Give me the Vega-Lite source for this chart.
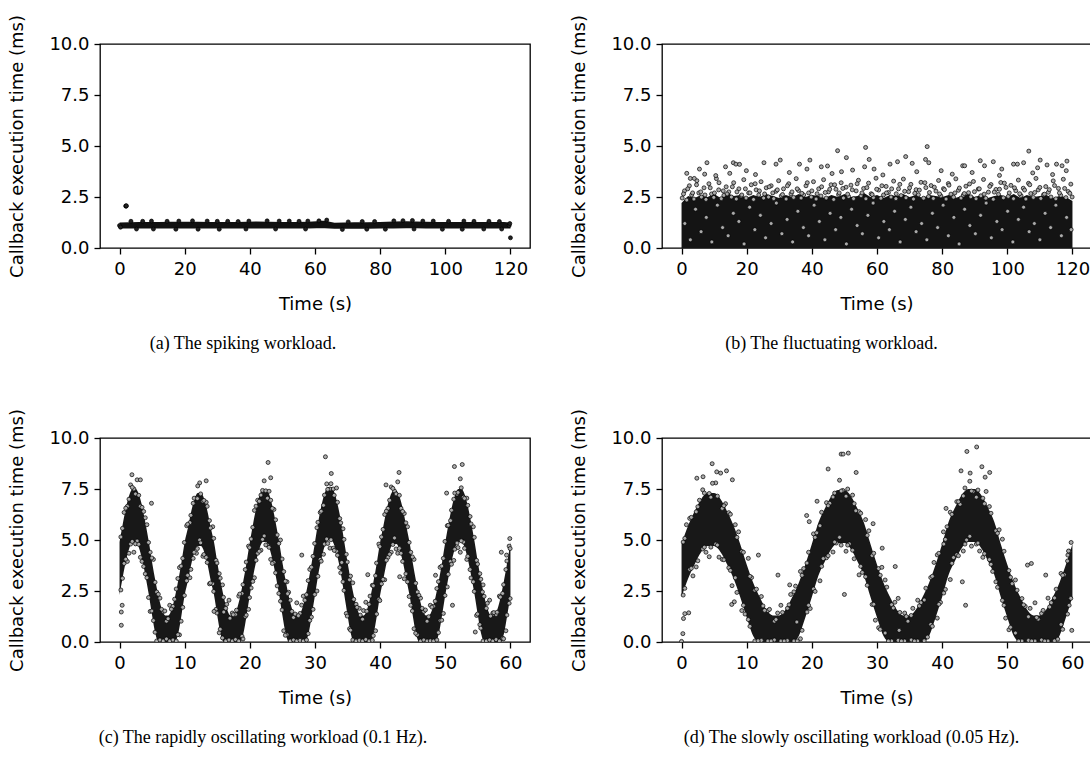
{
"$schema": "https://vega.github.io/schema/vega-lite/v6.json",
"autosize": {"type": "pad"},
"padding": {"left": 8, "top": 13, "right": 0, "bottom": 0},
"background": "white",
"bounds": "flush",
"columns": 2,
"spacing": {"row": 190, "column": 132},
"config": {
 "view": {"stroke": "#000", "strokeWidth": 1.3},
 "font": "DejaVu Sans",
 "axis": {"domain": false, "grid": false, "tickColor": "#000", "tickSize": 6, "tickWidth": 1.3, "labelFont": "DejaVu Sans", "labelFontSize": 18, "labelColor": "#000", "labelPadding": 5, "labelFlush": false, "labelOverlap": false, "labelBound": false, "titleFont": "DejaVu Sans", "titleFontSize": 18, "titleFontWeight": "normal", "titleColor": "#000"},
 "axisX": {"titlePadding": 17, "labelPadding": 6},
 "axisY": {"titlePadding": 22},
 "title": {"orient": "bottom", "anchor": "middle", "frame": "group", "font": "Liberation Serif", "fontSize": 18, "fontWeight": "normal", "color": "#000", "offset": 22}
},
"concat": [
 {
  "width": 430, "height": 204,
  "title": {"text": "(a) The spiking workload.", "dx": -72},
  "encoding": {
   "x": {"field": "t", "type": "quantitative", "title": "Time (s)", "scale": {"domain": [-6, 126], "nice": false, "zero": false}, "axis": {"values": [0, 20, 40, 60, 80, 100, 120]}},
   "y": {"field": "v", "type": "quantitative", "title": "Callback execution time (ms)", "scale": {"domain": [0, 10], "nice": false}, "axis": {"values": [0, 2.5, 5, 7.5, 10], "format": ".1f"}}
  },
  "layer": [
   {"data": {"name": "bandA"}, "mark": {"type": "area", "color": "#111", "interpolate": "monotone", "clip": true}, "encoding": {"y2": {"field": "v2"}}},
   {"data": {"name": "ptsA"}, "mark": {"type": "circle", "fill": "#222", "fillOpacity": 1, "stroke": "#000", "strokeWidth": 0.7, "size": 16, "clip": true}}
  ]
 },
 {
  "width": 429, "height": 204,
  "title": {"text": "(b) The fluctuating workload.", "dx": -45},
  "encoding": {
   "x": {"field": "t", "type": "quantitative", "title": "Time (s)", "scale": {"domain": [-6, 125.69], "nice": false, "zero": false}, "axis": {"values": [0, 20, 40, 60, 80, 100, 120]}},
   "y": {"field": "v", "type": "quantitative", "title": "Callback execution time (ms)", "scale": {"domain": [0, 10], "nice": false}, "axis": {"values": [0, 2.5, 5, 7.5, 10], "format": ".1f"}}
  },
  "layer": [
   {"data": {"name": "bandB"}, "mark": {"type": "area", "color": "#141414", "interpolate": "linear", "clip": true}, "encoding": {"y2": {"field": "v2"}}},
   {"data": {"name": "ptsB"}, "mark": {"type": "circle", "fill": "#aaa", "fillOpacity": 1, "stroke": "#000", "strokeWidth": 0.7, "size": 16, "clip": true}}
  ]
 },
 {
  "width": 430, "height": 204,
  "title": {"text": "(c) The rapidly oscillating workload (0.1 Hz).", "dx": -52},
  "encoding": {
   "x": {"field": "t", "type": "quantitative", "title": "Time (s)", "scale": {"domain": [-3, 63], "nice": false, "zero": false}, "axis": {"values": [0, 10, 20, 30, 40, 50, 60]}},
   "y": {"field": "v", "type": "quantitative", "title": "Callback execution time (ms)", "scale": {"domain": [0, 10], "nice": false}, "axis": {"values": [0, 2.5, 5, 7.5, 10], "format": ".1f"}}
  },
  "layer": [
   {"data": {"name": "bandC"}, "mark": {"type": "area", "color": "#181818", "interpolate": "monotone", "clip": true}, "encoding": {"y2": {"field": "v2"}}},
   {"data": {"name": "ptsC"}, "mark": {"type": "circle", "fill": "#aaa", "fillOpacity": 1, "stroke": "#000", "strokeWidth": 0.7, "size": 16, "clip": true}}
  ]
 },
 {
  "width": 429, "height": 204,
  "title": {"text": "(d) The slowly oscillating workload (0.05 Hz).", "dx": -25},
  "encoding": {
   "x": {"field": "t", "type": "quantitative", "title": "Time (s)", "scale": {"domain": [-3, 62.85], "nice": false, "zero": false}, "axis": {"values": [0, 10, 20, 30, 40, 50, 60]}},
   "y": {"field": "v", "type": "quantitative", "title": "Callback execution time (ms)", "scale": {"domain": [0, 10], "nice": false}, "axis": {"values": [0, 2.5, 5, 7.5, 10], "format": ".1f"}}
  },
  "layer": [
   {"data": {"name": "bandD"}, "mark": {"type": "area", "color": "#181818", "interpolate": "monotone", "clip": true}, "encoding": {"y2": {"field": "v2"}}},
   {"data": {"name": "ptsD"}, "mark": {"type": "circle", "fill": "#aaa", "fillOpacity": 1, "stroke": "#000", "strokeWidth": 0.7, "size": 16, "clip": true}}
  ]
 }
],
"datasets": {
 "bandA": [
  {"t":0,"v":0.96,"v2":1.25},{"t":6,"v":0.95,"v2":1.27},{"t":12,"v":0.95,"v2":1.28},{"t":20,"v":0.96,"v2":1.29},{"t":28,"v":0.95,"v2":1.28},{"t":36,"v":0.95,"v2":1.27},{"t":42,"v":0.96,"v2":1.3},{"t":50,"v":0.96,"v2":1.28},{"t":58,"v":0.96,"v2":1.29},{"t":63,"v":0.97,"v2":1.33},{"t":66,"v":0.94,"v2":1.24},{"t":72,"v":0.94,"v2":1.26},{"t":80,"v":0.95,"v2":1.28},{"t":88,"v":0.97,"v2":1.31},{"t":94,"v":0.96,"v2":1.29},{"t":102,"v":0.95,"v2":1.28},{"t":110,"v":0.96,"v2":1.28},{"t":118,"v":0.95,"v2":1.27},{"t":120,"v":0.96,"v2":1.25}
 ],
 "ptsA": [
  {"t":1.9,"v":2.06},{"t":2.0,"v":2.05},{"t":2.1,"v":2.07},{"t":120.0,"v":0.5},
  {"t":0,"v":1.1},{"t":0.3,"v":1.02},{"t":3.5,"v":1.31},{"t":9.8,"v":1.32},{"t":14.6,"v":1.31},{"t":22.4,"v":1.33},{"t":26.9,"v":1.32},{"t":33.2,"v":1.31},{"t":39.7,"v":1.32},{"t":45.3,"v":1.33},{"t":52.1,"v":1.32},{"t":57.8,"v":1.32},{"t":63.6,"v":1.37},{"t":74.5,"v":1.3},{"t":84.2,"v":1.33},{"t":89.9,"v":1.35},{"t":96.3,"v":1.32},{"t":105.7,"v":1.32},{"t":113.4,"v":1.31},{"t":119.6,"v":1.1},{"t":119.8,"v":1.2},
  {"t":7.1,"v":1.31},{"t":18.2,"v":1.32},{"t":30.0,"v":1.31},{"t":36.4,"v":1.3},{"t":49.0,"v":1.32},{"t":55.1,"v":1.31},{"t":61.2,"v":1.33},{"t":70.2,"v":1.28},{"t":78.3,"v":1.3},{"t":87.0,"v":1.34},{"t":93.1,"v":1.32},{"t":101.0,"v":1.31},{"t":108.8,"v":1.31},{"t":116.6,"v":1.3},
  {"t":5.2,"v":0.93},{"t":17.3,"v":0.92},{"t":30.6,"v":0.92},{"t":47.9,"v":0.93},{"t":68.4,"v":0.91},{"t":81.6,"v":0.92},{"t":99.1,"v":0.92},{"t":111.8,"v":0.93},
  {"t":10.4,"v":0.93},{"t":24.1,"v":0.92},{"t":38.8,"v":0.93},{"t":57.1,"v":0.93},{"t":75.9,"v":0.92},{"t":90.4,"v":0.93},{"t":105.2,"v":0.92},{"t":117.3,"v":0.93}
 ],
 "bandB": [
  {"t":0,"v":0,"v2":2.2},{"t":2,"v":0,"v2":2.55},{"t":4,"v":0,"v2":2.45},{"t":6,"v":0,"v2":2.6},{"t":8,"v":0,"v2":2.5},{"t":10,"v":0,"v2":2.65},{"t":12,"v":0,"v2":2.45},{"t":14,"v":0,"v2":2.7},{"t":16,"v":0,"v2":2.55},{"t":18,"v":0,"v2":2.6},
  {"t":20,"v":0,"v2":2.45},{"t":22,"v":0,"v2":2.6},{"t":24,"v":0,"v2":2.5},{"t":26,"v":0,"v2":2.65},{"t":28,"v":0,"v2":2.55},{"t":30,"v":0,"v2":2.45},{"t":32,"v":0,"v2":2.6},{"t":34,"v":0,"v2":2.5},{"t":36,"v":0,"v2":2.65},{"t":38,"v":0,"v2":2.5},
  {"t":40,"v":0,"v2":2.6},{"t":42,"v":0,"v2":2.55},{"t":44,"v":0,"v2":2.45},{"t":46,"v":0,"v2":2.6},{"t":48,"v":0,"v2":2.5},{"t":50,"v":0,"v2":2.65},{"t":52,"v":0,"v2":2.5},{"t":54,"v":0,"v2":2.55},{"t":56,"v":0,"v2":2.7},{"t":58,"v":0,"v2":2.5},
  {"t":60,"v":0,"v2":2.6},{"t":62,"v":0,"v2":2.45},{"t":64,"v":0,"v2":2.6},{"t":66,"v":0,"v2":2.55},{"t":68,"v":0,"v2":2.65},{"t":70,"v":0,"v2":2.5},{"t":72,"v":0,"v2":2.6},{"t":74,"v":0,"v2":2.45},{"t":76,"v":0,"v2":2.6},{"t":78,"v":0,"v2":2.55},
  {"t":80,"v":0,"v2":2.5},{"t":82,"v":0,"v2":2.6},{"t":84,"v":0,"v2":2.45},{"t":86,"v":0,"v2":2.55},{"t":88,"v":0,"v2":2.65},{"t":90,"v":0,"v2":2.5},{"t":92,"v":0,"v2":2.6},{"t":94,"v":0,"v2":2.45},{"t":96,"v":0,"v2":2.55},{"t":98,"v":0,"v2":2.6},
  {"t":100,"v":0,"v2":2.5},{"t":102,"v":0,"v2":2.65},{"t":104,"v":0,"v2":2.45},{"t":106,"v":0,"v2":2.6},{"t":108,"v":0,"v2":2.5},{"t":110,"v":0,"v2":2.55},{"t":112,"v":0,"v2":2.6},{"t":114,"v":0,"v2":2.45},{"t":116,"v":0,"v2":2.55},{"t":118,"v":0,"v2":2.5},{"t":120,"v":0,"v2":2.3}
 ],
 "ptsB": [
  {"t":0.2,"v":2.45},{"t":0.9,"v":2.8},{"t":1.6,"v":2.35},{"t":2.4,"v":3.05},{"t":3.1,"v":2.6},{"t":3.8,"v":2.4},{"t":4.7,"v":3.3},{"t":5.3,"v":2.7},{"t":6.1,"v":2.5},{"t":6.9,"v":2.95},
  {"t":7.5,"v":2.38},{"t":8.4,"v":3.15},{"t":9.2,"v":2.65},{"t":9.9,"v":2.48},{"t":10.7,"v":3.4},{"t":11.4,"v":2.85},{"t":12.2,"v":2.42},{"t":13.0,"v":2.58},{"t":13.7,"v":3.0},{"t":14.5,"v":2.75},
  {"t":15.3,"v":2.5},{"t":16.0,"v":3.2},{"t":16.8,"v":2.4},{"t":17.6,"v":2.9},{"t":18.3,"v":2.55},{"t":19.1,"v":3.35},{"t":19.8,"v":2.45},{"t":20.6,"v":2.7},{"t":21.4,"v":3.1},{"t":22.1,"v":2.38},
  {"t":22.9,"v":2.85},{"t":23.7,"v":2.6},{"t":24.4,"v":3.25},{"t":25.2,"v":2.45},{"t":26.0,"v":2.95},{"t":26.7,"v":2.5},{"t":27.5,"v":3.05},{"t":28.3,"v":2.42},{"t":29.0,"v":2.78},{"t":29.8,"v":3.3},
  {"t":30.6,"v":2.55},{"t":31.3,"v":2.9},{"t":32.1,"v":2.4},{"t":32.9,"v":3.15},{"t":33.6,"v":2.65},{"t":34.4,"v":2.48},{"t":35.2,"v":3.4},{"t":35.9,"v":2.82},{"t":36.7,"v":2.45},{"t":37.5,"v":2.6},
  {"t":38.2,"v":3.05},{"t":39.0,"v":2.7},{"t":39.8,"v":2.5},{"t":40.5,"v":3.25},{"t":41.3,"v":2.4},{"t":42.1,"v":2.9},{"t":42.8,"v":2.55},{"t":43.6,"v":3.35},{"t":44.4,"v":2.45},{"t":45.1,"v":2.75},
  {"t":45.9,"v":3.1},{"t":46.7,"v":2.38},{"t":47.4,"v":2.88},{"t":48.2,"v":2.62},{"t":49.0,"v":3.2},{"t":49.7,"v":2.45},{"t":50.5,"v":2.98},{"t":51.3,"v":2.52},{"t":52.0,"v":3.08},{"t":52.8,"v":2.42},
  {"t":53.6,"v":2.8},{"t":54.3,"v":3.32},{"t":55.1,"v":2.56},{"t":55.9,"v":2.92},{"t":56.6,"v":2.41},{"t":57.4,"v":3.18},{"t":58.2,"v":2.66},{"t":58.9,"v":2.47},{"t":59.7,"v":3.42},{"t":60.5,"v":2.84},
  {"t":61.2,"v":2.44},{"t":62.0,"v":2.6},{"t":62.8,"v":3.02},{"t":63.5,"v":2.72},{"t":64.3,"v":2.5},{"t":65.1,"v":3.28},{"t":65.8,"v":2.42},{"t":66.6,"v":2.9},{"t":67.4,"v":2.57},{"t":68.1,"v":3.38},
  {"t":68.9,"v":2.46},{"t":69.7,"v":2.76},{"t":70.4,"v":3.12},{"t":71.2,"v":2.4},{"t":72.0,"v":2.86},{"t":72.7,"v":2.61},{"t":73.5,"v":3.22},{"t":74.3,"v":2.44},{"t":75.0,"v":2.96},{"t":75.8,"v":2.52},
  {"t":76.6,"v":3.06},{"t":77.3,"v":2.43},{"t":78.1,"v":2.79},{"t":78.9,"v":3.31},{"t":79.6,"v":2.55},{"t":80.4,"v":2.91},{"t":81.2,"v":2.4},{"t":81.9,"v":3.16},{"t":82.7,"v":2.64},{"t":83.5,"v":2.49},
  {"t":84.2,"v":3.39},{"t":85.0,"v":2.83},{"t":85.8,"v":2.45},{"t":86.5,"v":2.59},{"t":87.3,"v":3.03},{"t":88.1,"v":2.71},{"t":88.8,"v":2.51},{"t":89.6,"v":3.26},{"t":90.4,"v":2.41},{"t":91.1,"v":2.89},
  {"t":91.9,"v":2.56},{"t":92.7,"v":3.36},{"t":93.4,"v":2.44},{"t":94.2,"v":2.74},{"t":95.0,"v":3.11},{"t":95.7,"v":2.39},{"t":96.5,"v":2.87},{"t":97.3,"v":2.63},{"t":98.0,"v":3.21},{"t":98.8,"v":2.46},
  {"t":99.6,"v":2.97},{"t":100.3,"v":2.53},{"t":101.1,"v":3.07},{"t":101.9,"v":2.42},{"t":102.6,"v":2.81},{"t":103.4,"v":3.33},{"t":104.2,"v":2.57},{"t":104.9,"v":2.93},{"t":105.7,"v":2.4},{"t":106.5,"v":3.17},
  {"t":107.2,"v":2.67},{"t":108.0,"v":2.48},{"t":108.8,"v":3.41},{"t":109.5,"v":2.85},{"t":110.3,"v":2.43},{"t":111.1,"v":2.61},{"t":111.8,"v":3.01},{"t":112.6,"v":2.73},{"t":113.4,"v":2.5},{"t":114.1,"v":3.29},
  {"t":114.9,"v":2.41},{"t":115.7,"v":2.92},{"t":116.4,"v":2.58},{"t":117.2,"v":3.37},{"t":118.0,"v":2.47},{"t":118.7,"v":2.77},{"t":119.5,"v":3.13},{"t":119.9,"v":2.5},
  {"t":0.6,"v":2.65},{"t":1.9,"v":2.9},{"t":3.4,"v":2.7},{"t":4.6,"v":3.1},{"t":5.9,"v":2.75},{"t":7.2,"v":2.6},{"t":8.8,"v":2.95},{"t":10.1,"v":2.7},{"t":11.5,"v":3.2},{"t":12.8,"v":2.8},
  {"t":14.0,"v":2.65},{"t":15.6,"v":3.0},{"t":17.0,"v":2.75},{"t":18.5,"v":2.6},{"t":19.6,"v":2.9},{"t":21.0,"v":2.7},{"t":22.6,"v":3.15},{"t":23.9,"v":2.8},{"t":25.5,"v":2.65},{"t":26.9,"v":3.0},
  {"t":28.0,"v":2.7},{"t":29.4,"v":2.85},{"t":31.0,"v":2.62},{"t":32.5,"v":3.05},{"t":33.9,"v":2.75},{"t":35.5,"v":2.9},{"t":36.9,"v":2.68},{"t":38.6,"v":3.2},{"t":40.0,"v":2.8},{"t":41.6,"v":2.66},
  {"t":43.0,"v":3.0},{"t":44.1,"v":2.72},{"t":45.5,"v":2.88},{"t":47.0,"v":3.1},{"t":48.4,"v":2.7},{"t":49.5,"v":2.92},{"t":51.0,"v":2.64},{"t":52.4,"v":2.85},{"t":53.9,"v":3.15},{"t":55.4,"v":2.7},
  {"t":56.9,"v":2.96},{"t":58.5,"v":2.62},{"t":59.9,"v":2.88},{"t":61.5,"v":3.05},{"t":62.9,"v":2.7},{"t":64.5,"v":2.9},{"t":65.9,"v":2.66},{"t":67.0,"v":3.12},{"t":68.5,"v":2.78},{"t":70.0,"v":2.95},
  {"t":71.6,"v":2.68},{"t":73.0,"v":2.84},{"t":74.7,"v":3.2},{"t":76.1,"v":2.72},{"t":77.6,"v":2.98},{"t":79.2,"v":2.65},{"t":80.7,"v":2.86},{"t":82.1,"v":3.08},{"t":83.9,"v":2.7},{"t":85.3,"v":2.94},
  {"t":86.8,"v":2.67},{"t":88.4,"v":3.14},{"t":89.9,"v":2.76},{"t":91.4,"v":2.9},{"t":92.9,"v":2.64},{"t":94.6,"v":3.02},{"t":96.0,"v":2.74},{"t":97.6,"v":2.88},{"t":99.1,"v":3.18},{"t":100.6,"v":2.7},
  {"t":102.2,"v":2.95},{"t":103.8,"v":2.66},{"t":105.3,"v":2.84},{"t":106.9,"v":3.1},{"t":108.4,"v":2.72},{"t":110.0,"v":2.97},{"t":111.4,"v":2.64},{"t":112.9,"v":2.86},{"t":114.5,"v":3.06},{"t":116.0,"v":2.7},
  {"t":117.6,"v":2.92},{"t":119.2,"v":2.68},
  {"t":1.0,"v":1.2},{"t":2.7,"v":0.4},{"t":4.3,"v":1.9},{"t":6.0,"v":0.8},{"t":7.6,"v":1.5},{"t":9.3,"v":0.3},{"t":11.0,"v":2.1},{"t":12.6,"v":1.0},{"t":14.3,"v":0.6},{"t":15.9,"v":1.7},
  {"t":17.6,"v":1.3},{"t":19.2,"v":0.2},{"t":20.9,"v":2.0},{"t":22.5,"v":0.9},{"t":24.2,"v":1.6},{"t":25.8,"v":0.5},{"t":27.5,"v":1.2},{"t":29.1,"v":2.2},{"t":30.8,"v":0.7},{"t":32.4,"v":1.4},
  {"t":34.1,"v":0.3},{"t":35.7,"v":1.8},{"t":37.4,"v":1.0},{"t":39.0,"v":0.6},{"t":40.7,"v":2.1},{"t":42.3,"v":1.3},{"t":44.0,"v":0.4},{"t":45.6,"v":1.7},{"t":47.3,"v":0.9},{"t":48.9,"v":1.5},
  {"t":50.6,"v":0.2},{"t":52.2,"v":1.9},{"t":53.9,"v":1.1},{"t":55.5,"v":0.7},{"t":57.2,"v":1.6},{"t":58.8,"v":2.2},{"t":60.5,"v":0.5},{"t":62.1,"v":1.3},{"t":63.8,"v":0.9},{"t":65.4,"v":1.8},
  {"t":67.1,"v":0.3},{"t":68.7,"v":1.4},{"t":70.4,"v":2.0},{"t":72.0,"v":0.8},{"t":73.7,"v":1.2},{"t":75.3,"v":0.4},{"t":77.0,"v":1.7},{"t":78.6,"v":1.0},{"t":80.3,"v":2.1},{"t":81.9,"v":0.6},
  {"t":83.6,"v":1.5},{"t":85.2,"v":0.2},{"t":86.9,"v":1.9},{"t":88.5,"v":1.1},{"t":90.2,"v":0.7},{"t":91.8,"v":1.6},{"t":93.5,"v":2.2},{"t":95.1,"v":0.5},{"t":96.8,"v":1.3},{"t":98.4,"v":0.9},
  {"t":100.1,"v":1.8},{"t":101.7,"v":0.3},{"t":103.4,"v":1.4},{"t":105.0,"v":2.0},{"t":106.7,"v":0.8},{"t":108.3,"v":1.2},{"t":110.0,"v":0.4},{"t":111.6,"v":1.7},{"t":113.3,"v":1.0},{"t":114.9,"v":2.1},
  {"t":116.6,"v":0.6},{"t":118.2,"v":1.5},{"t":119.6,"v":0.9},
  {"t":7.8,"v":4.18},{"t":5.5,"v":3.87},{"t":7.1,"v":3.62},{"t":1.6,"v":3.66},{"t":2.7,"v":3.41},{"t":3.9,"v":3.41},{"t":13.5,"v":3.98},{"t":15.9,"v":4.18},{"t":16.7,"v":4.11},{"t":17.8,"v":4.1},
  {"t":14.8,"v":3.66},{"t":19.9,"v":3.79},{"t":25.3,"v":4.18},{"t":29.0,"v":4.11},{"t":30.3,"v":4.31},{"t":36.2,"v":4.11},{"t":39.4,"v":4.31},{"t":38.5,"v":3.87},{"t":42.9,"v":3.98},{"t":44.8,"v":4.02},
  {"t":47.9,"v":4.77},{"t":50.6,"v":4.43},{"t":49.1,"v":3.74},{"t":52.5,"v":3.82},{"t":56.2,"v":3.98},{"t":56.5,"v":4.93},{"t":57.6,"v":4.34},{"t":59.1,"v":3.87},{"t":64.0,"v":4.11},{"t":66.3,"v":4.23},
  {"t":68.8,"v":4.48},{"t":70.8,"v":4.15},{"t":74.9,"v":4.34},{"t":75.4,"v":4.97},{"t":75.9,"v":4.18},{"t":72.2,"v":3.74},{"t":79.7,"v":3.79},{"t":86.3,"v":4.03},{"t":86.9,"v":4.03},{"t":91.7,"v":4.28},
  {"t":93.0,"v":4.03},{"t":95.7,"v":4.23},{"t":98.3,"v":3.87},{"t":101.9,"v":4.11},{"t":103.1,"v":4.11},{"t":105.0,"v":4.18},{"t":106.6,"v":4.75},{"t":109.3,"v":3.93},{"t":110.1,"v":4.31},{"t":112.2,"v":4.07},
  {"t":115.1,"v":4.11},{"t":116.8,"v":4.03},{"t":118.3,"v":4.26},{"t":118.1,"v":3.79},{"t":10.5,"v":3.55},{"t":22.7,"v":3.6},{"t":33.1,"v":3.7},{"t":46.2,"v":3.65},{"t":61.8,"v":3.58},{"t":83.1,"v":3.62},
  {"t":89.2,"v":3.7},{"t":97.6,"v":3.56},{"t":107.8,"v":3.68},{"t":113.9,"v":3.6}
 ],
 "bandC": [
  {"t":0,"v":2.3,"v2":4.9},{"t":0.5,"v":3.2,"v2":5.8},{"t":1,"v":4.0,"v2":6.6},{"t":1.5,"v":4.6,"v2":7.2},{"t":2,"v":4.9,"v2":7.5},{"t":2.5,"v":4.9,"v2":7.5},{"t":3,"v":4.6,"v2":7.2},{"t":3.5,"v":4.0,"v2":6.6},{"t":4,"v":3.2,"v2":5.8},{"t":4.5,"v":2.3,"v2":4.9},
  {"t":5,"v":1.3,"v2":3.9},{"t":5.5,"v":0.4,"v2":3.0},{"t":6,"v":0,"v2":2.2},{"t":6.5,"v":0,"v2":1.6},{"t":7,"v":0,"v2":1.3},{"t":7.5,"v":0,"v2":1.3},{"t":8,"v":0,"v2":1.6},{"t":8.5,"v":0,"v2":2.2},{"t":9,"v":0.4,"v2":3.0},{"t":9.5,"v":1.3,"v2":3.9},
  {"t":10,"v":2.3,"v2":4.9},{"t":10.5,"v":3.0,"v2":5.6},{"t":11,"v":3.8,"v2":6.4},{"t":11.5,"v":4.4,"v2":7.0},{"t":12,"v":4.7,"v2":7.3},{"t":12.5,"v":4.7,"v2":7.3},{"t":13,"v":4.4,"v2":7.0},{"t":13.5,"v":3.8,"v2":6.4},{"t":14,"v":3.0,"v2":5.6},{"t":14.5,"v":2.3,"v2":4.9},
  {"t":15,"v":1.3,"v2":3.9},{"t":15.5,"v":0.4,"v2":3.0},{"t":16,"v":0,"v2":2.2},{"t":16.5,"v":0,"v2":1.6},{"t":17,"v":0,"v2":1.3},{"t":17.5,"v":0,"v2":1.3},{"t":18,"v":0,"v2":1.6},{"t":18.5,"v":0,"v2":2.2},{"t":19,"v":0.4,"v2":3.0},{"t":19.5,"v":1.3,"v2":3.9},
  {"t":20,"v":2.3,"v2":4.9},{"t":20.5,"v":3.2,"v2":5.8},{"t":21,"v":4.0,"v2":6.6},{"t":21.5,"v":4.6,"v2":7.2},{"t":22,"v":4.9,"v2":7.5},{"t":22.5,"v":4.9,"v2":7.5},{"t":23,"v":4.6,"v2":7.2},{"t":23.5,"v":4.0,"v2":6.6},{"t":24,"v":3.2,"v2":5.8},{"t":24.5,"v":2.3,"v2":4.9},
  {"t":25,"v":1.3,"v2":3.9},{"t":25.5,"v":0.4,"v2":3.0},{"t":26,"v":0,"v2":2.2},{"t":26.5,"v":0,"v2":1.6},{"t":27,"v":0,"v2":1.3},{"t":27.5,"v":0,"v2":1.3},{"t":28,"v":0,"v2":1.6},{"t":28.5,"v":0,"v2":2.2},{"t":29,"v":0.4,"v2":3.0},{"t":29.5,"v":1.3,"v2":3.9},
  {"t":30,"v":2.3,"v2":4.9},{"t":30.5,"v":3.3,"v2":5.9},{"t":31,"v":4.1,"v2":6.7},{"t":31.5,"v":4.7,"v2":7.3},{"t":32,"v":5.0,"v2":7.6},{"t":32.5,"v":5.0,"v2":7.6},{"t":33,"v":4.7,"v2":7.3},{"t":33.5,"v":4.1,"v2":6.7},{"t":34,"v":3.3,"v2":5.9},{"t":34.5,"v":2.3,"v2":4.9},
  {"t":35,"v":1.3,"v2":3.9},{"t":35.5,"v":0.4,"v2":3.0},{"t":36,"v":0,"v2":2.2},{"t":36.5,"v":0,"v2":1.6},{"t":37,"v":0,"v2":1.3},{"t":37.5,"v":0,"v2":1.3},{"t":38,"v":0,"v2":1.6},{"t":38.5,"v":0,"v2":2.2},{"t":39,"v":0.4,"v2":3.0},{"t":39.5,"v":1.3,"v2":3.9},
  {"t":40,"v":2.3,"v2":4.9},{"t":40.5,"v":3.1,"v2":5.7},{"t":41,"v":3.9,"v2":6.5},{"t":41.5,"v":4.5,"v2":7.1},{"t":42,"v":4.8,"v2":7.4},{"t":42.5,"v":4.8,"v2":7.4},{"t":43,"v":4.5,"v2":7.1},{"t":43.5,"v":3.9,"v2":6.5},{"t":44,"v":3.1,"v2":5.7},{"t":44.5,"v":2.3,"v2":4.9},
  {"t":45,"v":1.3,"v2":3.9},{"t":45.5,"v":0.4,"v2":3.0},{"t":46,"v":0,"v2":2.2},{"t":46.5,"v":0,"v2":1.6},{"t":47,"v":0,"v2":1.3},{"t":47.5,"v":0,"v2":1.3},{"t":48,"v":0,"v2":1.6},{"t":48.5,"v":0,"v2":2.2},{"t":49,"v":0.4,"v2":3.0},{"t":49.5,"v":1.3,"v2":3.9},
  {"t":50,"v":2.3,"v2":4.9},{"t":50.5,"v":3.2,"v2":5.8},{"t":51,"v":4.0,"v2":6.6},{"t":51.5,"v":4.6,"v2":7.2},{"t":52,"v":4.9,"v2":7.5},{"t":52.5,"v":4.9,"v2":7.5},{"t":53,"v":4.6,"v2":7.2},{"t":53.5,"v":4.0,"v2":6.6},{"t":54,"v":3.2,"v2":5.8},{"t":54.5,"v":2.3,"v2":4.9},
  {"t":55,"v":1.3,"v2":3.9},{"t":55.5,"v":0.4,"v2":3.0},{"t":56,"v":0,"v2":2.2},{"t":56.5,"v":0,"v2":1.6},{"t":57,"v":0,"v2":1.3},{"t":57.5,"v":0,"v2":1.3},{"t":58,"v":0,"v2":1.6},{"t":58.5,"v":0,"v2":2.2},{"t":59,"v":0.4,"v2":3.0},{"t":59.5,"v":1.3,"v2":3.9},
  {"t":60,"v":2.3,"v2":4.9}
 ],
 "ptsC": [
  {"t":0.2,"v":5.15},{"t":0.2,"v":2.55},{"t":0.7,"v":6.35},{"t":0.7,"v":3.85},{"t":1.2,"v":6.65},{"t":1.2,"v":3.95},{"t":1.7,"v":7.7},{"t":1.7,"v":4.8},{"t":2.2,"v":7.5},{"t":2.2,"v":4.4},
  {"t":2.7,"v":7.95},{"t":2.7,"v":4.95},{"t":3.2,"v":6.65},{"t":3.2,"v":4.15},{"t":3.7,"v":6.4},{"t":3.7,"v":3.7},{"t":4.2,"v":5.75},{"t":4.2,"v":3.15},{"t":4.7,"v":4.4},{"t":4.7,"v":1.5},
  {"t":5.2,"v":4.05},{"t":5.2,"v":1.05},{"t":5.7,"v":2.45},{"t":5.7,"v":0.05},{"t":6.2,"v":2.15},{"t":6.2,"v":0.1},{"t":6.7,"v":1.5},{"t":6.7,"v":0.05},{"t":7.2,"v":1.02},{"t":7.2,"v":0.15},
  {"t":7.7,"v":1.8},{"t":7.7,"v":0.05},{"t":8.2,"v":1.75},{"t":8.2,"v":0.1},{"t":8.7,"v":2.6},{"t":8.7,"v":0.05},{"t":9.2,"v":3.65},{"t":9.2,"v":0.35},{"t":9.7,"v":4.1},{"t":9.7,"v":1.7},
  {"t":10.3,"v":5.7},{"t":10.3,"v":3.0},{"t":10.8,"v":5.85},{"t":10.8,"v":3.15},{"t":11.3,"v":6.8},{"t":11.3,"v":4.1},{"t":11.8,"v":7.05},{"t":11.8,"v":4.35},{"t":12.3,"v":7.8},{"t":12.3,"v":5.0},
  {"t":12.8,"v":6.9},{"t":12.8,"v":4.2},{"t":13.3,"v":6.85},{"t":13.3,"v":4.15},{"t":13.8,"v":5.95},{"t":13.8,"v":2.85},{"t":14.3,"v":5.65},{"t":14.3,"v":2.85},{"t":14.8,"v":4.0},{"t":14.8,"v":1.6},
  {"t":15.3,"v":3.35},{"t":15.3,"v":0.45},{"t":15.8,"v":2.8},{"t":15.8,"v":0.2},{"t":16.3,"v":1.65},{"t":16.3,"v":0.05},{"t":16.8,"v":2.05},{"t":16.8,"v":0.1},{"t":17.3,"v":1.42},{"t":17.3,"v":0.05},
  {"t":17.8,"v":1.35},{"t":17.8,"v":0.12},{"t":18.3,"v":2.25},{"t":18.3,"v":0.05},{"t":18.8,"v":2.38},{"t":18.8,"v":0.28},{"t":19.3,"v":3.55},{"t":19.3,"v":1.25},{"t":19.8,"v":4.7},{"t":19.8,"v":1.6},
  {"t":20.2,"v":5.05},{"t":20.2,"v":2.65},{"t":20.7,"v":6.45},{"t":20.7,"v":3.15},{"t":21.2,"v":6.95},{"t":21.2,"v":4.35},{"t":21.7,"v":7.2},{"t":21.7,"v":4.5},{"t":22.2,"v":7.9},{"t":22.2,"v":5.2},
  {"t":22.7,"v":7.05},{"t":22.7,"v":4.75},{"t":23.2,"v":6.95},{"t":23.2,"v":4.05},{"t":23.7,"v":6.5},{"t":23.7,"v":3.9},{"t":24.2,"v":5.25},{"t":24.2,"v":2.75},{"t":24.7,"v":5.0},{"t":24.7,"v":2.0},
  {"t":25.2,"v":3.45},{"t":25.2,"v":0.55},{"t":25.7,"v":2.95},{"t":25.7,"v":0.35},{"t":26.2,"v":2.05},{"t":26.2,"v":0.05},{"t":26.7,"v":1.2},{"t":26.7,"v":0.1},{"t":27.2,"v":1.92},{"t":27.2,"v":0.05},
  {"t":27.7,"v":1.4},{"t":27.7,"v":0.08},{"t":28.2,"v":2.25},{"t":28.2,"v":0.05},{"t":28.7,"v":2.32},{"t":28.7,"v":0.1},{"t":29.2,"v":3.56},{"t":29.2,"v":1.06},{"t":29.7,"v":4.2},{"t":29.7,"v":1.6},
  {"t":30.3,"v":5.6},{"t":30.3,"v":2.5},{"t":30.8,"v":6.35},{"t":30.8,"v":4.05},{"t":31.3,"v":6.7},{"t":31.3,"v":4.3},{"t":31.8,"v":7.75},{"t":31.8,"v":5.05},{"t":32.3,"v":7.5},{"t":32.3,"v":4.6},
  {"t":32.8,"v":7.5},{"t":32.8,"v":4.6},{"t":33.3,"v":7.55},{"t":33.3,"v":4.45},{"t":33.8,"v":6.05},{"t":33.8,"v":3.65},{"t":34.3,"v":5.55},{"t":34.3,"v":2.95},{"t":34.8,"v":4.3},{"t":34.8,"v":1.4},
  {"t":35.3,"v":3.05},{"t":35.3,"v":0.65},{"t":35.8,"v":2.9},{"t":35.8,"v":0.1},{"t":36.3,"v":1.85},{"t":36.3,"v":0.05},{"t":36.8,"v":1.65},{"t":36.8,"v":0.08},{"t":37.3,"v":1.12},{"t":37.3,"v":0.05},
  {"t":37.8,"v":1.95},{"t":37.8,"v":0.12},{"t":38.3,"v":1.85},{"t":38.3,"v":0.05},{"t":38.8,"v":2.78},{"t":38.8,"v":0.08},{"t":39.3,"v":3.25},{"t":39.3,"v":0.55},{"t":39.8,"v":4.8},{"t":39.8,"v":2.1},
  {"t":40.2,"v":5.15},{"t":40.2,"v":2.85},{"t":40.7,"v":6.25},{"t":40.7,"v":3.05},{"t":41.2,"v":6.55},{"t":41.2,"v":4.15},{"t":41.7,"v":7.6},{"t":41.7,"v":4.4},{"t":42.2,"v":7.4},{"t":42.2,"v":5.1},
  {"t":42.7,"v":7.85},{"t":42.7,"v":4.35},{"t":43.2,"v":6.55},{"t":43.2,"v":4.35},{"t":43.7,"v":6.3},{"t":43.7,"v":3.1},{"t":44.2,"v":5.65},{"t":44.2,"v":2.95},{"t":44.7,"v":4.4},{"t":44.7,"v":1.8},
  {"t":45.2,"v":4.05},{"t":45.2,"v":0.65},{"t":45.7,"v":2.45},{"t":45.7,"v":0.35},{"t":46.2,"v":2.15},{"t":46.2,"v":0.05},{"t":46.7,"v":1.5},{"t":46.7,"v":0.1},{"t":47.2,"v":1.02},{"t":47.2,"v":0.05},
  {"t":47.7,"v":1.8},{"t":47.7,"v":0.06},{"t":48.2,"v":1.75},{"t":48.2,"v":0.05},{"t":48.7,"v":2.62},{"t":48.7,"v":0.1},{"t":49.2,"v":3.66},{"t":49.2,"v":1.06},{"t":49.7,"v":4.1},{"t":49.7,"v":1.4},
  {"t":50.3,"v":5.7},{"t":50.3,"v":2.7},{"t":50.8,"v":5.95},{"t":50.8,"v":3.95},{"t":51.3,"v":7.0},{"t":51.3,"v":4.0},{"t":51.8,"v":7.25},{"t":51.8,"v":4.85},{"t":52.3,"v":8.0},{"t":52.3,"v":4.4},
  {"t":52.8,"v":7.1},{"t":52.8,"v":4.9},{"t":53.3,"v":7.05},{"t":53.3,"v":4.05},{"t":53.8,"v":6.15},{"t":53.8,"v":3.55},{"t":54.3,"v":5.65},{"t":54.3,"v":2.95},{"t":54.8,"v":4.0},{"t":54.8,"v":1.3},
  {"t":55.3,"v":3.35},{"t":55.3,"v":0.85},{"t":55.8,"v":2.8},{"t":55.8,"v":0.05},{"t":56.3,"v":1.65},{"t":56.3,"v":0.05},{"t":56.8,"v":2.05},{"t":56.8,"v":0.1},{"t":57.3,"v":1.42},{"t":57.3,"v":0.05},
  {"t":57.8,"v":1.35},{"t":57.8,"v":0.12},{"t":58.3,"v":2.25},{"t":58.3,"v":0.05},{"t":58.8,"v":2.38},{"t":58.8,"v":0.18},{"t":59.3,"v":3.55},{"t":59.3,"v":0.55},{"t":59.8,"v":4.7},{"t":59.8,"v":1.9},
  {"t":0.45,"v":5.57},{"t":0.45,"v":3.12},{"t":0.95,"v":6.56},{"t":0.95,"v":4.06},{"t":1.45,"v":7.0},{"t":1.45,"v":4.35},{"t":1.95,"v":7.58},{"t":1.95,"v":4.93},{"t":2.45,"v":7.26},{"t":2.45,"v":4.81},
  {"t":2.95,"v":7.19},{"t":2.95,"v":4.79},{"t":3.45,"v":6.6},{"t":3.45,"v":3.95},{"t":3.95,"v":6.09},{"t":3.95,"v":3.34},{"t":4.45,"v":4.88},{"t":4.45,"v":2.18},{"t":4.95,"v":4.12},{"t":4.95,"v":1.52},
  {"t":5.45,"v":2.93},{"t":5.45,"v":0.48},{"t":5.95,"v":2.34},{"t":6.45,"v":1.6},{"t":6.95,"v":1.52},{"t":7.45,"v":1.14},{"t":7.95,"v":1.61},{"t":8.45,"v":2.1},{"t":8.95,"v":3.11},{"t":8.95,"v":0.36},
  {"t":9.45,"v":3.72},{"t":9.45,"v":1.02},{"t":9.95,"v":4.88},{"t":9.95,"v":2.28},
  {"t":10.45,"v":5.77},{"t":10.45,"v":3.27},{"t":10.95,"v":6.21},{"t":10.95,"v":3.56},{"t":11.45,"v":7.05},{"t":11.45,"v":4.4},{"t":11.95,"v":7.03},{"t":11.95,"v":4.58},{"t":12.45,"v":7.26},{"t":12.45,"v":4.86},
  {"t":12.95,"v":6.94},{"t":12.95,"v":4.29},{"t":13.45,"v":6.65},{"t":13.45,"v":3.9},{"t":13.95,"v":5.59},{"t":13.95,"v":2.89},{"t":14.45,"v":5.08},{"t":14.45,"v":2.48},{"t":14.95,"v":3.87},{"t":14.95,"v":1.42},
  {"t":15.45,"v":3.13},{"t":15.45,"v":0.63},{"t":15.95,"v":2.19},{"t":16.45,"v":1.85},{"t":16.95,"v":1.17},{"t":17.45,"v":1.34},{"t":17.95,"v":1.56},{"t":18.45,"v":2.35},{"t":18.95,"v":2.81},{"t":18.95,"v":0.15},
  {"t":19.45,"v":3.92},{"t":19.45,"v":1.32},{"t":19.95,"v":4.63},{"t":19.95,"v":2.18},
  {"t":20.45,"v":5.62},{"t":20.45,"v":2.97},{"t":20.95,"v":6.66},{"t":20.95,"v":4.01},{"t":21.45,"v":6.9},{"t":21.45,"v":4.45},{"t":21.95,"v":7.43},{"t":21.95,"v":5.03},{"t":22.45,"v":7.41},{"t":22.45,"v":4.76},
  {"t":22.95,"v":7.39},{"t":22.95,"v":4.64},{"t":23.45,"v":6.55},{"t":23.45,"v":3.85},{"t":23.95,"v":5.99},{"t":23.95,"v":3.39},{"t":24.45,"v":4.83},{"t":24.45,"v":2.38},{"t":24.95,"v":4.07},{"t":24.95,"v":1.57},
  {"t":25.45,"v":2.98},{"t":25.45,"v":0.33},{"t":25.95,"v":2.44},{"t":26.45,"v":1.5},{"t":26.95,"v":1.37},{"t":27.45,"v":1.29},{"t":27.95,"v":1.81},{"t":28.45,"v":2.05},{"t":28.95,"v":3.01},{"t":28.95,"v":0.41},
  {"t":29.45,"v":3.67},{"t":29.45,"v":1.22},{"t":29.95,"v":4.83},{"t":29.95,"v":2.33},
  {"t":30.45,"v":5.87},{"t":30.45,"v":3.22},{"t":30.95,"v":6.41},{"t":30.95,"v":3.96},{"t":31.45,"v":7.2},{"t":31.45,"v":4.8},{"t":31.95,"v":7.48},{"t":31.95,"v":4.83},{"t":32.45,"v":7.76},{"t":32.45,"v":5.01},
  {"t":32.95,"v":7.19},{"t":32.95,"v":4.49},{"t":33.45,"v":6.85},{"t":33.45,"v":4.25},{"t":33.95,"v":5.84},{"t":33.95,"v":3.39},{"t":34.45,"v":5.03},{"t":34.45,"v":2.53},{"t":34.95,"v":3.92},{"t":34.95,"v":1.27},
  {"t":35.45,"v":3.23},{"t":35.45,"v":0.58},{"t":35.95,"v":2.09},{"t":36.45,"v":1.7},{"t":36.95,"v":1.32},{"t":37.45,"v":1.54},{"t":37.95,"v":1.51},{"t":38.45,"v":2.25},{"t":38.95,"v":2.76},{"t":38.95,"v":0.31},
  {"t":39.45,"v":3.87},{"t":39.45,"v":1.37},{"t":39.95,"v":4.68},{"t":39.95,"v":2.03},
  {"t":40.45,"v":5.52},{"t":40.45,"v":3.07},{"t":40.95,"v":6.41},{"t":40.95,"v":4.01},{"t":41.45,"v":6.95},{"t":41.45,"v":4.3},{"t":41.95,"v":7.53},{"t":41.95,"v":4.78},{"t":42.45,"v":7.26},{"t":42.45,"v":4.56},
  {"t":42.95,"v":7.19},{"t":42.95,"v":4.59},{"t":43.45,"v":6.4},{"t":43.45,"v":3.95},{"t":43.95,"v":5.84},{"t":43.95,"v":3.34},{"t":44.45,"v":4.88},{"t":44.45,"v":2.23},{"t":44.95,"v":4.17},{"t":44.95,"v":1.52},
  {"t":45.45,"v":2.88},{"t":45.45,"v":0.43},{"t":45.95,"v":2.29},{"t":46.45,"v":1.65},{"t":46.95,"v":1.57},{"t":47.45,"v":1.24},{"t":47.95,"v":1.71},{"t":48.45,"v":2.0},{"t":48.95,"v":2.96},{"t":48.95,"v":0.46},
  {"t":49.45,"v":3.72},{"t":49.45,"v":1.07},{"t":49.95,"v":4.93},{"t":49.95,"v":2.28},
  {"t":50.45,"v":5.72},{"t":50.45,"v":3.32},{"t":50.95,"v":6.46},{"t":50.95,"v":3.81},{"t":51.45,"v":7.3},{"t":51.45,"v":4.55},{"t":51.95,"v":7.33},{"t":51.95,"v":4.63},{"t":52.45,"v":7.56},{"t":52.45,"v":4.96},
  {"t":52.95,"v":7.04},{"t":52.95,"v":4.59},{"t":53.45,"v":6.7},{"t":53.45,"v":4.2},{"t":53.95,"v":5.79},{"t":53.95,"v":3.14},{"t":54.45,"v":5.13},{"t":54.45,"v":2.48},{"t":54.95,"v":3.82},{"t":54.95,"v":1.37},
  {"t":55.45,"v":3.08},{"t":55.45,"v":0.68},{"t":55.95,"v":2.24},{"t":56.45,"v":1.9},{"t":56.95,"v":1.27},{"t":57.45,"v":1.44},{"t":57.95,"v":1.46},{"t":58.45,"v":2.2},{"t":58.95,"v":2.81},{"t":58.95,"v":0.16},
  {"t":59.45,"v":3.97},{"t":59.45,"v":1.32},{"t":59.95,"v":4.58},{"t":59.95,"v":2.13},
  {"t":0.27,"v":0.82},{"t":0.27,"v":1.47},{"t":0.4,"v":1.8},{"t":1.9,"v":8.2},{"t":3.2,"v":7.95},{"t":4.9,"v":6.8},{"t":12.0,"v":7.65},{"t":13.3,"v":7.9},{"t":22.8,"v":8.8},{"t":23.2,"v":8.05},
  {"t":31.6,"v":9.08},{"t":32.5,"v":8.26},{"t":42.9,"v":8.31},{"t":40.9,"v":7.7},{"t":52.6,"v":8.7},{"t":51.4,"v":8.6},{"t":50.2,"v":7.3},{"t":59.9,"v":5.07},{"t":59.4,"v":4.26},{"t":58.6,"v":4.4},
  {"t":27.97,"v":4.26},{"t":38.1,"v":3.3},{"t":43.0,"v":3.2},{"t":48.5,"v":3.27},{"t":51.1,"v":1.8},{"t":54.6,"v":0.49},{"t":55.7,"v":2.45},{"t":16.0,"v":1.47},{"t":14.5,"v":1.5},{"t":34.1,"v":3.9},
  {"t":25.8,"v":2.37}
 ],
 "bandD": [
  {"t":0,"v":2.2,"v2":4.8},{"t":1,"v":3.1,"v2":5.7},{"t":2,"v":3.8,"v2":6.4},{"t":3,"v":4.4,"v2":7.0},{"t":4,"v":4.7,"v2":7.3},{"t":5,"v":4.7,"v2":7.3},{"t":6,"v":4.4,"v2":7.0},{"t":7,"v":3.8,"v2":6.4},{"t":8,"v":3.1,"v2":5.7},{"t":9,"v":2.2,"v2":4.8},
  {"t":10,"v":1.2,"v2":3.8},{"t":11,"v":0.3,"v2":2.9},{"t":12,"v":0,"v2":2.2},{"t":13,"v":0,"v2":1.6},{"t":14,"v":0,"v2":1.3},{"t":15,"v":0,"v2":1.3},{"t":16,"v":0,"v2":1.6},{"t":17,"v":0,"v2":2.2},{"t":18,"v":0.3,"v2":2.9},{"t":19,"v":1.2,"v2":3.8},
  {"t":20,"v":2.2,"v2":4.8},{"t":21,"v":3.25,"v2":5.85},{"t":22,"v":3.95,"v2":6.55},{"t":23,"v":4.55,"v2":7.15},{"t":24,"v":4.85,"v2":7.45},{"t":25,"v":4.85,"v2":7.45},{"t":26,"v":4.55,"v2":7.15},{"t":27,"v":3.95,"v2":6.55},{"t":28,"v":3.25,"v2":5.85},{"t":29,"v":2.2,"v2":4.8},
  {"t":30,"v":1.2,"v2":3.8},{"t":31,"v":0.3,"v2":2.9},{"t":32,"v":0,"v2":2.2},{"t":33,"v":0,"v2":1.6},{"t":34,"v":0,"v2":1.3},{"t":35,"v":0,"v2":1.3},{"t":36,"v":0,"v2":1.6},{"t":37,"v":0,"v2":2.2},{"t":38,"v":0.3,"v2":2.9},{"t":39,"v":1.2,"v2":3.8},
  {"t":40,"v":2.2,"v2":4.8},{"t":41,"v":3.3,"v2":5.9},{"t":42,"v":4.0,"v2":6.6},{"t":43,"v":4.6,"v2":7.2},{"t":44,"v":4.9,"v2":7.5},{"t":45,"v":4.9,"v2":7.5},{"t":46,"v":4.6,"v2":7.2},{"t":47,"v":4.0,"v2":6.6},{"t":48,"v":3.3,"v2":5.9},{"t":49,"v":2.2,"v2":4.8},
  {"t":50,"v":1.2,"v2":3.8},{"t":51,"v":0.3,"v2":2.9},{"t":52,"v":0,"v2":2.2},{"t":53,"v":0,"v2":1.6},{"t":54,"v":0,"v2":1.3},{"t":55,"v":0,"v2":1.3},{"t":56,"v":0,"v2":1.6},{"t":57,"v":0,"v2":2.2},{"t":58,"v":0.3,"v2":2.9},{"t":59,"v":1.2,"v2":3.8},
  {"t":60,"v":2.2,"v2":4.8}
 ],
 "ptsD": [
  {"t":0.25,"v":4.9},{"t":0.25,"v":2.3},{"t":1.25,"v":6.06},{"t":1.25,"v":3.56},{"t":2.25,"v":6.38},{"t":2.25,"v":3.68},{"t":3.25,"v":7.46},{"t":3.25,"v":4.56},{"t":4.25,"v":7.28},{"t":4.25,"v":4.18},
  {"t":5.25,"v":7.8},{"t":5.25,"v":4.8},{"t":6.25,"v":6.55},{"t":6.25,"v":4.05},{"t":7.25,"v":6.34},{"t":7.25,"v":3.64},{"t":8.25,"v":5.75},{"t":8.25,"v":3.15},{"t":9.25,"v":4.44},{"t":9.25,"v":1.54},
  {"t":10.25,"v":4.1},{"t":10.25,"v":1.1},{"t":11.25,"v":2.54},{"t":11.25,"v":0.05},{"t":12.25,"v":2.23},{"t":12.25,"v":0.08},{"t":13.25,"v":1.54},{"t":13.25,"v":0.05},{"t":14.25,"v":1.02},{"t":14.25,"v":0.1},
  {"t":15.25,"v":1.8},{"t":15.25,"v":0.05},{"t":16.25,"v":1.65},{"t":16.25,"v":0.07},{"t":17.25,"v":2.46},{"t":17.25,"v":0.05},{"t":18.25,"v":3.46},{"t":18.25,"v":0.16},{"t":19.25,"v":3.87},{"t":19.25,"v":1.47},
  {"t":0.75,"v":5.75},{"t":1.75,"v":3.24},{"t":2.75,"v":6.95},{"t":3.75,"v":4.4},{"t":4.75,"v":7.78},{"t":5.75,"v":4.16},{"t":6.75,"v":6.78},{"t":7.75,"v":2.76},{"t":8.75,"v":5.4},{"t":9.75,"v":1.37},
  {"t":10.75,"v":3.16},{"t":11.75,"v":0.06},{"t":12.75,"v":1.55},{"t":13.75,"v":0.05},{"t":14.75,"v":1.42},{"t":15.75,"v":0.05},{"t":16.75,"v":2.33},{"t":17.75,"v":0.05},{"t":18.75,"v":3.6},{"t":19.75,"v":1.64},
  {"t":20.25,"v":5.3},{"t":20.25,"v":2.6},{"t":21.25,"v":5.7},{"t":21.25,"v":3.0},{"t":22.25,"v":6.83},{"t":22.25,"v":4.13},{"t":23.25,"v":7.11},{"t":23.25,"v":4.41},{"t":24.25,"v":7.93},{"t":24.25,"v":5.13},
  {"t":25.25,"v":7.15},{"t":25.25,"v":4.45},{"t":26.25,"v":7.2},{"t":26.25,"v":4.5},{"t":27.25,"v":6.39},{"t":27.25,"v":3.29},{"t":28.25,"v":6.0},{"t":28.25,"v":3.2},{"t":29.25,"v":4.24},{"t":29.25,"v":1.84},
  {"t":30.25,"v":3.6},{"t":30.25,"v":0.7},{"t":31.25,"v":3.04},{"t":31.25,"v":0.44},{"t":32.25,"v":1.83},{"t":32.25,"v":0.05},{"t":33.25,"v":2.14},{"t":33.25,"v":0.08},{"t":34.25,"v":1.42},{"t":34.25,"v":0.05},
  {"t":35.25,"v":1.3},{"t":35.25,"v":0.1},{"t":36.25,"v":2.05},{"t":36.25,"v":0.05},{"t":37.25,"v":2.06},{"t":37.25,"v":0.06},{"t":38.25,"v":3.16},{"t":38.25,"v":0.86},{"t":39.25,"v":4.27},{"t":39.25,"v":1.17},
  {"t":20.75,"v":5.35},{"t":21.75,"v":4.09},{"t":22.75,"v":6.8},{"t":23.75,"v":4.85},{"t":24.75,"v":7.43},{"t":25.75,"v":4.81},{"t":26.75,"v":6.43},{"t":27.75,"v":3.41},{"t":28.75,"v":5.45},{"t":29.75,"v":1.07},
  {"t":30.75,"v":3.66},{"t":31.75,"v":0.05},{"t":32.75,"v":1.95},{"t":33.75,"v":0.05},{"t":34.75,"v":1.02},{"t":35.75,"v":0.05},{"t":36.75,"v":1.93},{"t":37.75,"v":0.24},{"t":38.75,"v":3.9},{"t":39.75,"v":1.94},
  {"t":40.25,"v":4.8},{"t":40.25,"v":2.4},{"t":41.25,"v":6.36},{"t":41.25,"v":3.06},{"t":42.25,"v":6.88},{"t":42.25,"v":4.28},{"t":43.25,"v":7.16},{"t":43.25,"v":4.46},{"t":44.25,"v":7.88},{"t":44.25,"v":5.18},
  {"t":45.25,"v":7.1},{"t":45.25,"v":4.8},{"t":46.25,"v":7.05},{"t":46.25,"v":4.15},{"t":47.25,"v":6.64},{"t":47.25,"v":4.04},{"t":48.25,"v":5.45},{"t":48.25,"v":2.95},{"t":49.25,"v":5.04},{"t":49.25,"v":2.04},
  {"t":50.25,"v":3.5},{"t":50.25,"v":0.6},{"t":51.25,"v":3.04},{"t":51.25,"v":0.44},{"t":52.25,"v":2.13},{"t":52.25,"v":0.05},{"t":53.25,"v":1.24},{"t":53.25,"v":0.08},{"t":54.25,"v":1.92},{"t":54.25,"v":0.05},
  {"t":55.25,"v":1.4},{"t":55.25,"v":0.1},{"t":56.25,"v":2.15},{"t":56.25,"v":0.05},{"t":57.25,"v":2.16},{"t":57.25,"v":0.06},{"t":58.25,"v":3.36},{"t":58.25,"v":0.86},{"t":59.25,"v":3.97},{"t":59.25,"v":1.37},
  {"t":40.75,"v":5.65},{"t":41.75,"v":4.14},{"t":42.75,"v":6.75},{"t":43.75,"v":5.0},{"t":44.75,"v":7.38},{"t":45.75,"v":4.46},{"t":46.75,"v":7.38},{"t":47.75,"v":3.46},{"t":48.75,"v":5.5},{"t":49.75,"v":1.17},
  {"t":50.75,"v":2.86},{"t":51.75,"v":0.05},{"t":52.75,"v":1.75},{"t":53.75,"v":0.05},{"t":54.75,"v":1.12},{"t":55.75,"v":0.05},{"t":56.75,"v":1.93},{"t":57.75,"v":0.14},{"t":58.75,"v":3.3},{"t":59.75,"v":2.14},
  {"t":0.5,"v":5.08},{"t":0.5,"v":2.63},{"t":1.5,"v":6.11},{"t":1.5,"v":3.61},{"t":2.5,"v":6.63},{"t":2.5,"v":3.98},{"t":3.5,"v":7.3},{"t":3.5,"v":4.65},{"t":4.5,"v":7.1},{"t":4.5,"v":4.65},
  {"t":5.5,"v":7.15},{"t":5.5,"v":4.75},{"t":6.5,"v":6.68},{"t":6.5,"v":4.03},{"t":7.5,"v":6.26},{"t":7.5,"v":3.51},{"t":8.5,"v":5.13},{"t":8.5,"v":2.43},{"t":9.5,"v":4.4},{"t":9.5,"v":1.8},
  {"t":10.5,"v":3.22},{"t":10.5,"v":0.77},{"t":11.5,"v":2.59},{"t":12.5,"v":1.77},{"t":13.5,"v":1.6},{"t":14.5,"v":1.1},{"t":15.5,"v":1.45},{"t":16.5,"v":1.82},{"t":17.5,"v":2.74},{"t":18.5,"v":3.27},
  {"t":18.5,"v":0.57},{"t":19.5,"v":4.4},{"t":19.5,"v":1.8},
  {"t":20.5,"v":5.13},{"t":20.5,"v":2.48},{"t":21.5,"v":6.36},{"t":21.5,"v":3.71},{"t":22.5,"v":6.68},{"t":22.5,"v":4.23},{"t":23.5,"v":7.3},{"t":23.5,"v":4.9},{"t":24.5,"v":7.4},{"t":24.5,"v":4.75},
  {"t":25.5,"v":7.5},{"t":25.5,"v":4.75},{"t":26.5,"v":6.78},{"t":26.5,"v":4.08},{"t":27.5,"v":6.31},{"t":27.5,"v":3.71},{"t":28.5,"v":5.23},{"t":28.5,"v":2.78},{"t":29.5,"v":4.35},{"t":29.5,"v":1.85},
  {"t":30.5,"v":3.27},{"t":30.5,"v":0.62},{"t":31.5,"v":2.69},{"t":32.5,"v":1.67},{"t":33.5,"v":1.45},{"t":34.5,"v":1.25},{"t":35.5,"v":1.65},{"t":36.5,"v":1.77},{"t":37.5,"v":2.64},{"t":38.5,"v":3.22},
  {"t":38.5,"v":0.77},{"t":39.5,"v":4.35},{"t":39.5,"v":1.85},
  {"t":40.5,"v":5.03},{"t":40.5,"v":2.58},{"t":41.5,"v":6.26},{"t":41.5,"v":3.86},{"t":42.5,"v":6.88},{"t":42.5,"v":4.23},{"t":43.5,"v":7.55},{"t":43.5,"v":4.8},{"t":44.5,"v":7.4},{"t":44.5,"v":4.7},
  {"t":45.5,"v":7.45},{"t":45.5,"v":4.85},{"t":46.5,"v":6.78},{"t":46.5,"v":4.33},{"t":47.5,"v":6.31},{"t":47.5,"v":3.81},{"t":48.5,"v":5.33},{"t":48.5,"v":2.68},{"t":49.5,"v":4.45},{"t":49.5,"v":1.8},
  {"t":50.5,"v":3.17},{"t":50.5,"v":0.72},{"t":51.5,"v":2.54},{"t":52.5,"v":1.82},{"t":53.5,"v":1.65},{"t":54.5,"v":1.2},{"t":55.5,"v":1.55},{"t":56.5,"v":1.72},{"t":57.5,"v":2.59},{"t":58.5,"v":3.27},
  {"t":58.5,"v":0.62},{"t":59.5,"v":4.45},{"t":59.5,"v":1.8},
  {"t":4.7,"v":8.74},{"t":2.35,"v":8.03},{"t":3.3,"v":8.1},{"t":5.4,"v":8.34},{"t":6.0,"v":8.28},{"t":6.9,"v":8.39},{"t":7.8,"v":7.95},{"t":22.5,"v":8.48},{"t":24.5,"v":9.21},{"t":24.8,"v":9.21},
  {"t":25.6,"v":9.26},{"t":26.8,"v":8.31},{"t":42.9,"v":8.39},{"t":43.8,"v":9.34},{"t":45.3,"v":9.56},{"t":44.3,"v":8.28},{"t":46.1,"v":8.59},{"t":47.3,"v":8.31},{"t":46.6,"v":8.08},{"t":0.2,"v":0.41},
  {"t":0.0,"v":0.03},{"t":0.3,"v":1.15},{"t":1.1,"v":1.43},{"t":0.5,"v":1.39},{"t":43.6,"v":1.8},{"t":43.1,"v":2.95},{"t":25.0,"v":2.33},{"t":33.4,"v":0.57},{"t":19.2,"v":6.2},{"t":19.6,"v":5.9},
  {"t":20.8,"v":6.9},{"t":29.4,"v":5.8},{"t":30.8,"v":4.6},{"t":32.8,"v":3.7},{"t":40.2,"v":5.4},{"t":40.6,"v":6.55},{"t":53.7,"v":3.85},{"t":53.1,"v":3.77},{"t":55.9,"v":3.28},{"t":59.8,"v":4.88},
  {"t":59.3,"v":4.26},{"t":59.4,"v":4.46},{"t":59.9,"v":0.57},{"t":7.7,"v":1.84},{"t":8.1,"v":1.97},{"t":11.8,"v":4.26},{"t":14.8,"v":3.28},{"t":17.7,"v":0.98},{"t":16.6,"v":2.8}
 ]
}
}
